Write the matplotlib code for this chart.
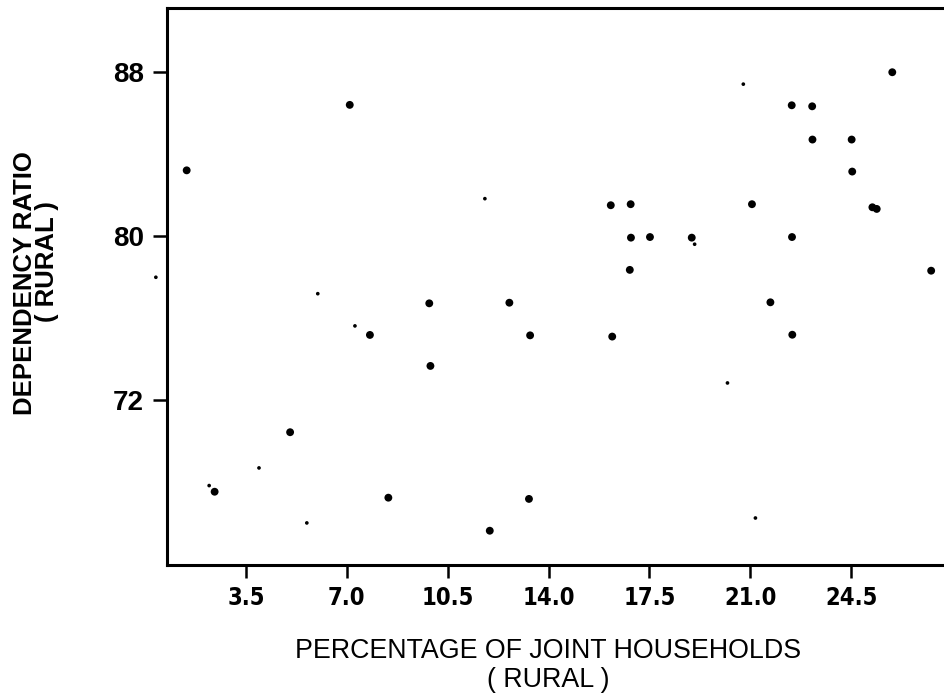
import matplotlib
matplotlib.use("Agg")
import matplotlib.pyplot as plt
from matplotlib import font_manager as fm

# ---- data ----
big_x = [1.44, 7.10, 25.93, 22.44, 23.15, 23.16, 24.52, 24.54, 16.16, 16.85,
         21.06, 25.24, 25.39, 16.86, 17.52, 18.97, 22.45, 16.82, 27.28, 21.70,
         9.86, 12.64, 7.80, 13.36, 9.90, 5.03, 2.41, 8.44, 13.32, 11.96,
         16.21, 22.46]
big_y = [83.19, 86.38, 87.97, 86.36, 86.31, 84.69, 84.69, 83.13, 81.49, 81.54,
         81.54, 81.39, 81.31, 79.91, 79.94, 79.91, 79.94, 78.34, 78.30, 76.76,
         76.71, 76.74, 75.17, 75.15, 73.66, 70.43, 67.53, 67.24, 67.18, 65.63,
         75.09, 75.18]
small_x = [11.79, 0.37, 5.99, 20.76, 19.07, 7.28, 3.95, 5.61, 20.21, 21.18, 2.22]
small_y = [81.81, 77.98, 77.18, 87.39, 79.59, 75.61, 68.69, 66.01, 72.83, 66.25, 67.83]

x_ticks = [3.5, 7.0, 10.5, 14.0, 17.5, 21.0, 24.5]
x_tick_labels = ["3.5", "7.0", "10.5", "14.0", "17.5", "21.0", "24.5"]
y_ticks = [72, 80, 88]
y_tick_labels = ["72", "80", "88"]

x_label = "PERCENTAGE OF JOINT HOUSEHOLDS"
y_label = "DEPENDENCY RATIO"
sub_label = "( RURAL )"

# ---- fonts ----
names = {f.name for f in fm.fontManager.ttflist}
base = "Liberation Sans" if "Liberation Sans" in names else "DejaVu Sans"
if "Liberation Sans Narrow" in names:
    narrow_kw = dict(family="Liberation Sans Narrow", weight="bold")
else:
    narrow_kw = dict(family="DejaVu Sans", weight="bold", stretch="condensed")

W, H = 945, 699
fig = plt.figure(figsize=(W / 100, H / 100), dpi=100)
left, right, top, bottom = 167, 945, 8, 565
ax = fig.add_axes([left / W, 1 - bottom / H, (right - left) / W, (bottom - top) / H])

ax.scatter(big_x, big_y, s=32, c="black", edgecolors="none", zorder=3, clip_on=False)
ax.scatter(small_x, small_y, s=7, c="black", edgecolors="none", zorder=3, clip_on=False)

ax.set_xlim(0.757, 27.76)
ax.set_ylim(63.96, 91.10)

ax.set_xticks(x_ticks)
ax.set_xticklabels(x_tick_labels, fontsize=17, **narrow_kw)
ax.set_yticks(y_ticks)
ax.set_yticklabels(y_tick_labels, fontsize=20, family=base, weight="bold")

ax.tick_params(axis="x", direction="out", length=9, width=1.8, pad=6, color="black")
ax.tick_params(axis="y", direction="out", length=10, width=1.8, pad=6.5, color="black")

for side in ["left", "bottom", "top"]:
    ax.spines[side].set_linewidth(2.2)
ax.spines["right"].set_visible(False)

# axis titles
fig.text(25 / W, 1 - 283 / H, y_label, rotation=90, ha="center", va="center",
         fontsize=18.5, family=base, weight="bold")
fig.text(47 / W, 1 - 262 / H, sub_label, rotation=90, ha="center", va="center",
         fontsize=18.5, family=base, weight="bold")
fig.text(548 / W, 1 - 651 / H, x_label, ha="center", va="center",
         fontsize=19.3, family=base)
fig.text(548 / W, 1 - 680 / H, sub_label, ha="center", va="center",
         fontsize=19.3, family=base)

fig.savefig("out.png", dpi=100)
